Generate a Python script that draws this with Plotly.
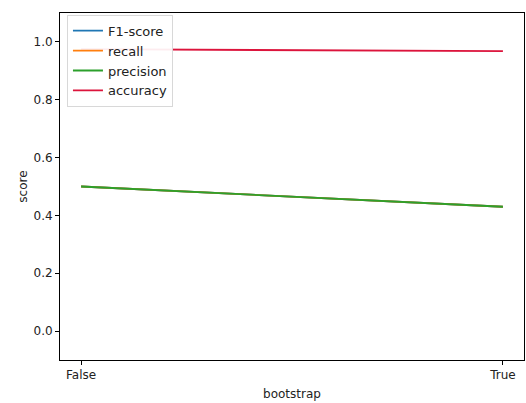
import plotly.graph_objects as go

bootstrap = ["False", "True"]
f1_score = [0.50, 0.43]
recall = [0.50, 0.43]
precision = [0.50, 0.43]
accuracy = [0.975, 0.968]

series = [
    ("F1-score", f1_score, "#1f77b4"),
    ("recall", recall, "#ff7f0e"),
    ("precision", precision, "#2ca02c"),
    ("accuracy", accuracy, "crimson"),
]

fig = go.Figure()
for name, vals, color in series:
    fig.add_trace(go.Scatter(x=bootstrap, y=vals, mode="lines", name=name,
                             line=dict(color=color, width=1.8)))

font = dict(family="DejaVu Sans", size=12, color="#222")
fig.update_layout(
    width=526, height=403,
    margin=dict(l=60, r=2, t=13, b=43),
    plot_bgcolor="white", paper_bgcolor="white",
    font=font,
    showlegend=True,
    legend=dict(x=0.015, y=0.995, xanchor="left", yanchor="top",
                bgcolor="rgba(255,255,255,0.92)", bordercolor="#d8d8d8", borderwidth=1,
                font=dict(family="DejaVu Sans", size=13, color="#222"),
                itemwidth=30, tracegroupgap=0),
)
fig.update_xaxes(
    type="category", range=[-0.05, 1.05],
    title=dict(text="bootstrap", font=font, standoff=8),
    showline=True, mirror=True, linecolor="black", linewidth=1,
    ticks="outside", ticklen=4, tickcolor="black", showgrid=False, zeroline=False,
)
fig.update_yaxes(
    range=[-0.1, 1.1], tickvals=[0.0, 0.2, 0.4, 0.6, 0.8, 1.0], tickformat=".1f",
    title=dict(text="score", font=font, standoff=3),
    showline=True, mirror=True, linecolor="black", linewidth=1,
    ticks="outside", ticklen=4, tickcolor="black", showgrid=False, zeroline=False,
)
fig.write_html("out.html")
